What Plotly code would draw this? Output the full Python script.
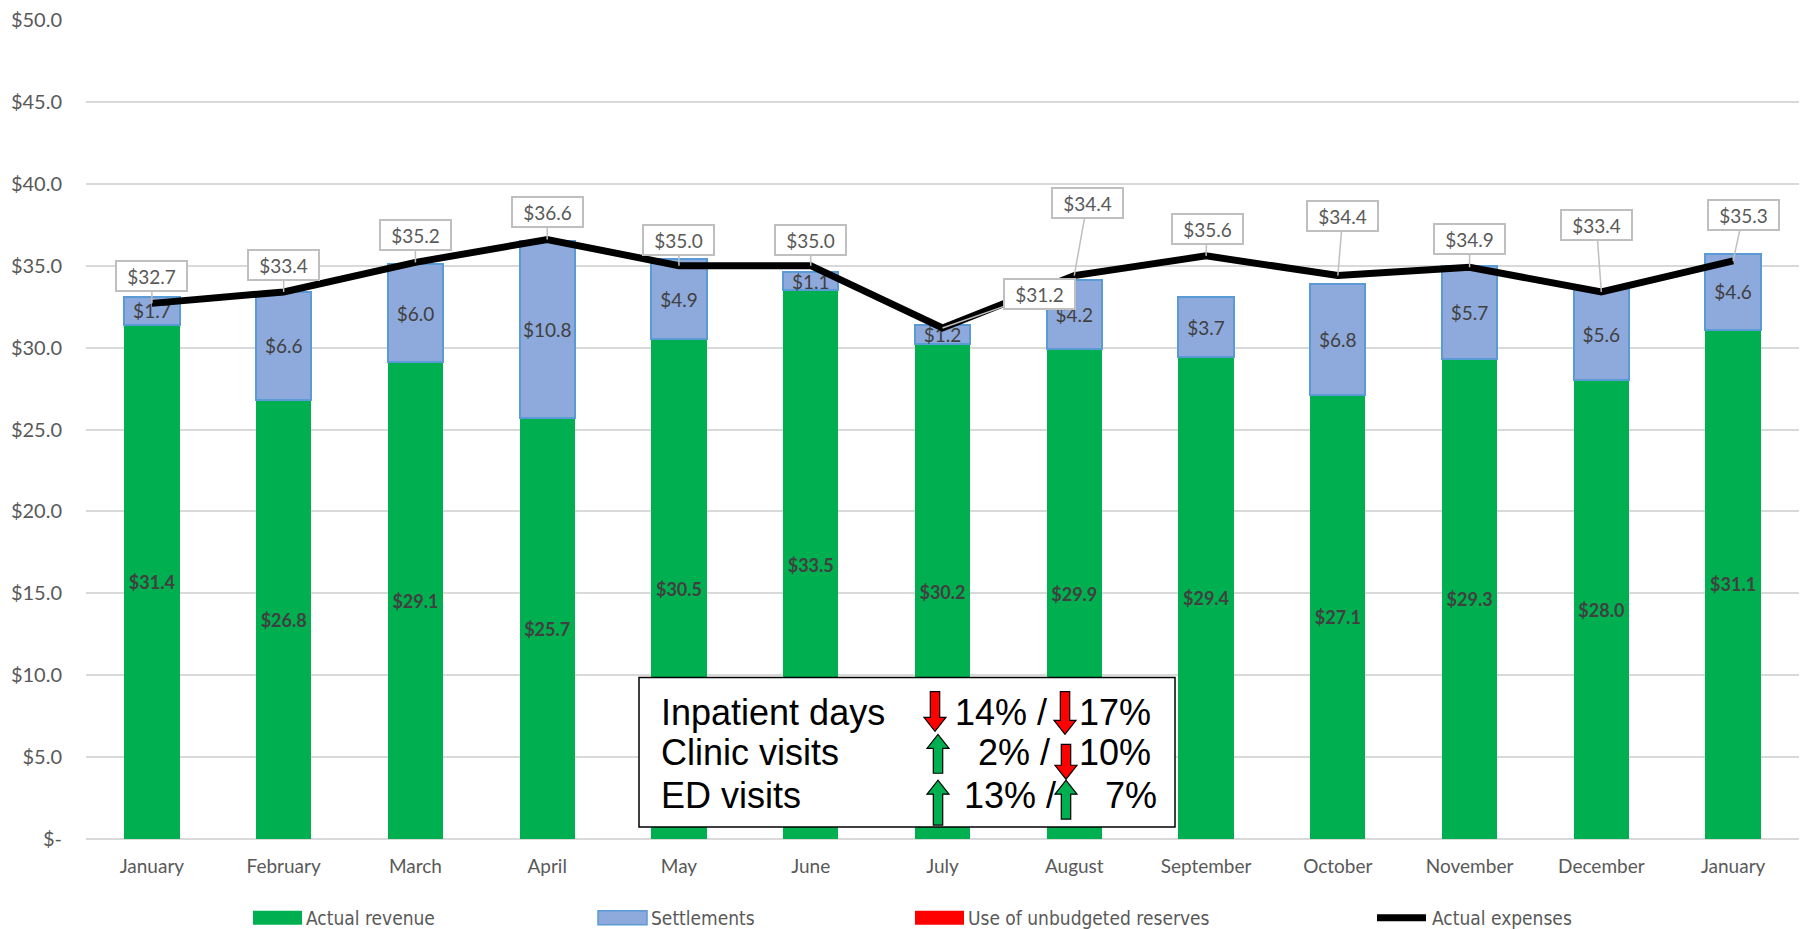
import plotly.graph_objects as go

# ---- data -------------------------------------------------------------
months = ["January", "February", "March", "April", "May", "June", "July",
          "August", "September", "October", "November", "December", "January"]
actual_revenue = [31.4, 26.8, 29.1, 25.7, 30.5, 33.5, 30.2, 29.9, 29.4, 27.1, 29.3, 28.0, 31.1]
settlements = [1.7, 6.6, 6.0, 10.8, 4.9, 1.1, 1.2, 4.2, 3.7, 6.8, 5.7, 5.6, 4.6]
unbudgeted_reserves = [0, 0, 0, 0, 0, 0, 0, 0, 0, 0, 0, 0, 0]
actual_expenses = [32.7, 33.4, 35.2, 36.6, 35.0, 35.0, 31.2, 34.4, 35.6, 34.4, 34.9, 33.4, 35.3]

y_tick_values = [0, 5, 10, 15, 20, 25, 30, 35, 40, 45, 50]
y_tick_labels = ["$-", "$5.0", "$10.0", "$15.0", "$20.0", "$25.0", "$30.0",
                 "$35.0", "$40.0", "$45.0", "$50.0"]

kpi_labels = ["Inpatient days", "Clinic visits", "ED visits"]
kpi_change_a = [-14, 2, 13]
kpi_change_b = [-17, -10, 7]

# ---- styling ------------------------------------------------------------
GREEN = "#00B050"
BLUE_FILL = "#8EA9DB"
BLUE_EDGE = "#5B9BD5"
RED = "#FF0000"
GRID = "#D9D9D9"
TXT = "#595959"
FONT = "Lato, 'Open Sans', sans-serif"
ARIAL = "Arial, 'Liberation Sans', sans-serif"
NARROW = "'Liberation Sans Narrow', 'Arial Narrow', 'DejaVu Sans Condensed', sans-serif"

W, H = 1806, 929
PL, PR, PT, PB = 86, 1799, 17, 839   # plot area in pixels


def px(x):
    return (x - PL) / (PR - PL)


def py(y):
    return (PB - y) / (PB - PT)


xs = list(range(len(months)))
money = lambda v: f"${v:.1f}"

fig = go.Figure()

fig.add_trace(go.Bar(
    x=xs, y=actual_revenue, name="Actual revenue", width=0.42,
    marker=dict(color=GREEN, line=dict(width=0)),
    text=[money(v) for v in actual_revenue], textposition="inside",
    insidetextanchor="middle", textangle=0, constraintext="none",
    textfont=dict(family=FONT, size=18, color="#404040", weight="bold"),
))
fig.add_trace(go.Bar(
    x=xs, y=settlements, name="Settlements", width=0.42,
    marker=dict(color=BLUE_FILL, line=dict(color=BLUE_EDGE, width=2)),
    text=[money(v) for v in settlements], textposition="inside",
    insidetextanchor="middle", textangle=0, constraintext="none",
    textfont=dict(family=FONT, size=19, color="#404040"),
))
fig.add_trace(go.Bar(
    x=xs, y=unbudgeted_reserves, name="Use of unbudgeted reserves", width=0.42,
    marker=dict(color=RED, line=dict(width=0)),
))
fig.add_trace(go.Scatter(
    x=xs, y=actual_expenses, name="Actual expenses", mode="lines",
    line=dict(color="black", width=7),
))

# callout labels for the expense line (box offset from the point, in px)
callout_offsets = [(0, -27), (0, -27), (0, -27), (0, -27), (0, -26), (0, -26),
                   (97, -34), (13, -73), (1, -27), (5, -60), (0, -28), (-5, -67), (10, -46)]
for i, v in enumerate(actual_expenses):
    ax, ay = callout_offsets[i]
    fig.add_annotation(
        x=i, y=v, xref="x", yref="y", text=money(v),
        showarrow=True, arrowhead=0, arrowwidth=1.5, arrowcolor="#BFBFBF",
        ax=ax, ay=ay, standoff=0,
        bgcolor="white", bordercolor="#BFBFBF", borderwidth=2, borderpad=3,
        width=63, height=22,
        font=dict(family=FONT, size=19, color=TXT),
    )

# ---- KPI box -----------------------------------------------------------
shapes = []
shapes.append(dict(type="rect", xref="paper", yref="paper",
                   x0=px(639), x1=px(1175), y0=py(827), y1=py(677),
                   fillcolor="white", line=dict(color="black", width=1.5),
                   layer="above"))


def block_arrow(cx, y_top, y_bot, up, color):
    sw, hw, hl = 4.7, 11, 14
    if up:
        tip, base = y_top, y_bot
        neck = tip + hl
    else:
        tip, base = y_bot, y_top
        neck = tip - hl
    pts = [(cx - sw, base), (cx - sw, neck), (cx - hw, neck), (cx, tip),
           (cx + hw, neck), (cx + sw, neck), (cx + sw, base)]
    path = "M " + " L ".join(f"{px(x):.5f},{py(y):.5f}" for x, y in pts) + " Z"
    return dict(type="path", xref="paper", yref="paper", path=path,
                fillcolor=color, line=dict(color="black", width=1.2), layer="above")


row_y = [712, 752, 795]
arrow_a_x = [935, 938, 938]
arrow_b_x = [1065, 1066, 1066]
arrow_a_span = [(691, 731), (734, 773), (780, 825)]
arrow_b_span = [(691, 734), (744, 779), (780, 819)]
text_a_x = [953, 976, 962]
text_b_x = [1077, 1077, 1103]

for r in range(3):
    a, b = kpi_change_a[r], kpi_change_b[r]
    shapes.append(block_arrow(arrow_a_x[r], *arrow_a_span[r], a > 0, GREEN if a > 0 else RED))
    shapes.append(block_arrow(arrow_b_x[r], *arrow_b_span[r], b > 0, GREEN if b > 0 else RED))
    fig.add_annotation(x=px(659), y=py(row_y[r]), xref="paper", yref="paper",
                       text=kpi_labels[r], showarrow=False, xanchor="left", yanchor="middle",
                       font=dict(family=ARIAL, size=36, color="black"))
    fig.add_annotation(x=px(text_a_x[r]), y=py(row_y[r]), xref="paper", yref="paper",
                       text=f"{abs(a)}% /", showarrow=False, xanchor="left", yanchor="middle",
                       font=dict(family=ARIAL, size=36, color="black"))
    fig.add_annotation(x=px(text_b_x[r]), y=py(row_y[r]), xref="paper", yref="paper",
                       text=f"{abs(b)}%", showarrow=False, xanchor="left", yanchor="middle",
                       font=dict(family=ARIAL, size=36, color="black"))

# ---- legend (drawn below the axis) -----------------------------------------
LEG_Y = 918
legend_items = [
    ("Actual revenue", 253, "box", GREEN, None),
    ("Settlements", 598, "box", BLUE_FILL, BLUE_EDGE),
    ("Use of unbudgeted reserves", 915, "box", RED, None),
    ("Actual expenses", 1374, "line", "black", None),
]
for label, x0, kind, color, edge in legend_items:
    if kind == "box":
        shapes.append(dict(type="rect", xref="paper", yref="paper",
                           x0=px(x0), x1=px(x0 + 49), y0=py(LEG_Y + 7), y1=py(LEG_Y - 7),
                           fillcolor=color,
                           line=dict(color=edge or color, width=1.5 if edge else 0)))
        tx = x0 + 51
    else:
        shapes.append(dict(type="line", xref="paper", yref="paper",
                           x0=px(x0 + 3), x1=px(x0 + 52), y0=py(LEG_Y), y1=py(LEG_Y),
                           line=dict(color=color, width=7)))
        tx = x0 + 56
    fig.add_annotation(x=px(tx), y=py(LEG_Y), xref="paper", yref="paper", text=label,
                       showarrow=False, xanchor="left", yanchor="middle",
                       font=dict(family=NARROW, size=19, color=TXT))

fig.update_layout(
    width=W, height=H,
    margin=dict(l=PL, r=W - PR, t=PT, b=H - PB),
    barmode="stack",
    showlegend=False,
    plot_bgcolor="white", paper_bgcolor="white",
    shapes=shapes,
    font=dict(family=FONT, color=TXT),
)
fig.update_xaxes(
    range=[-0.5, len(months) - 0.5], tickmode="array", tickvals=xs, ticktext=months,
    showgrid=False, zeroline=False, showline=False, ticks="",
    tickfont=dict(family=FONT, size=19, color=TXT), ticklabelstandoff=14,
)
fig.update_yaxes(
    range=[0, 50], tickmode="array", tickvals=y_tick_values, ticktext=y_tick_labels,
    showgrid=True, gridcolor=GRID, gridwidth=1.5, zeroline=True, zerolinecolor=GRID,
    zerolinewidth=1.5, showline=False, ticks="",
    tickfont=dict(family=FONT, size=20, color=TXT), ticklabelstandoff=23,
)

fig.write_html("out.html")
